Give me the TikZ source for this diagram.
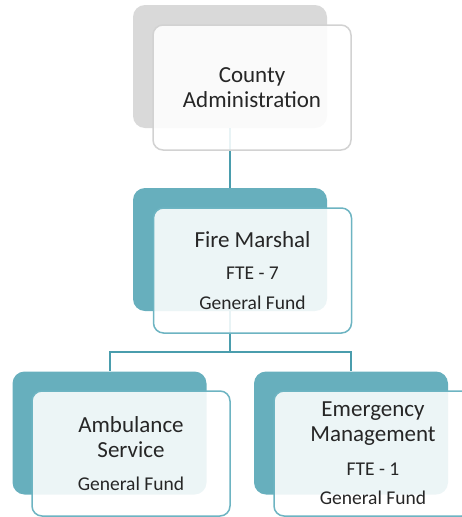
\documentclass[tikz,border=0pt]{standalone}
\usepackage{fontspec}
\setmainfont{Carlito}
\usepackage{tikz}
\usetikzlibrary{positioning}
\definecolor{boxteal}{HTML}{67AFBD}
\definecolor{edgeteal}{HTML}{6DB4C2}
\definecolor{lineteal}{HTML}{4A9DAD}
\definecolor{boxgray}{HTML}{D9D9D9}
\definecolor{edgegray}{HTML}{D2D2D2}
\definecolor{txt}{HTML}{262626}
\newcommand{\subtxt}[1]{{\fontsize{19.5}{25}\selectfont #1}}

\begin{document}
\begin{tikzpicture}
          [x=1pt,y=-1pt,semithick]
          \tikzstyle{back}=[rounded corners=12pt,fill=boxteal,minimum width=194pt,minimum height=123pt,inner sep=0pt]
          \tikzstyle{front}=[rounded corners=10pt,fill=white,fill opacity=0.88,text opacity=1,draw=edgeteal,line width=1.5pt,
                             minimum width=198pt,minimum height=125pt,align=center,text=txt,font=\fontsize{23}{25}\selectfont]
          \tikzstyle{link}=[draw=lineteal,line width=2pt]

          \clip (0,0) rectangle (462,517);

          % back boxes
          \node[back,fill=boxgray] (c0) at (230,66.5) {};
          \node[back] (f0) at (230,249.5) {};
          \node[back] (a0) at (109.5,433) {};
          \node[back] (e0) at (351,433) {};
          \coordinate (bus) at (230,352);

          % connectors
          \path[link] (c0) -- (f0);
          \path[link] (f0) -- (bus) -| (a0);
          \path[link] (bus) -| (e0);

          % front boxes
          \node[front,draw=edgegray,xshift=22pt,yshift=-21pt] (c1) at (c0) {County\\Administration};
          \node[front,xshift=22.5pt,yshift=-21pt] (f1) at (f0) {Fire Marshal\\[7pt]\subtxt{FTE - 7}\\[5pt]\subtxt{General Fund}};
          \node[front,xshift=21.5pt,yshift=-20.5pt] (a1) at (a0) {Ambulance\\Service\\[8pt]\subtxt{General Fund}};
          \node[front,xshift=22pt,yshift=-20.5pt] (e1) at (e0) {Emergency\\Management\\[9pt]\subtxt{FTE - 1}\\[4pt]\subtxt{General Fund}};
        \end{tikzpicture}
\end{document}
